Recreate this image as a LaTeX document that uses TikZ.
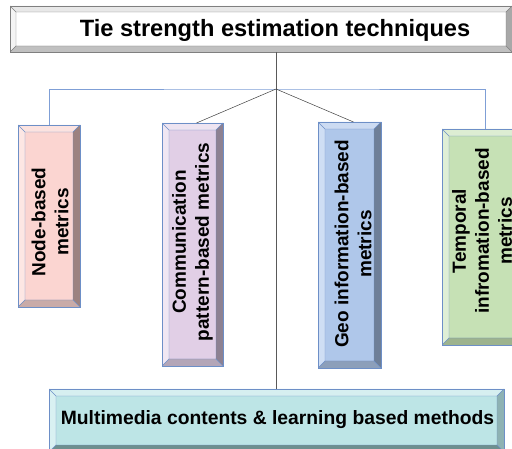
\documentclass[tikz,border=0pt]{standalone}
\usepackage{fontspec}
\setmainfont{Liberation Sans}
\usetikzlibrary{calc}
\definecolor{tfill}{HTML}{FFFFFF}\definecolor{ttop}{HTML}{E8E8E8}\definecolor{tleft}{HTML}{F4F4F4}
\definecolor{tright}{HTML}{A8A8A8}\definecolor{tbot}{HTML}{C0C0C0}\definecolor{tbord}{HTML}{7F7F7F}
\definecolor{nbfill}{HTML}{FBD5D1}\definecolor{nbtop}{HTML}{FCE3E0}\definecolor{nbleft}{HTML}{FDE7E4}
\definecolor{nbright}{HTML}{9C8280}\definecolor{nbbot}{HTML}{C9ABA8}
\definecolor{cmfill}{HTML}{E1CFE6}\definecolor{cmtop}{HTML}{EEE4F1}\definecolor{cmleft}{HTML}{F0E7F3}
\definecolor{cmright}{HTML}{8D8192}\definecolor{cmbot}{HTML}{B4A6B8}
\definecolor{gofill}{HTML}{AFC7EA}\definecolor{gotop}{HTML}{CCDBF2}\definecolor{goleft}{HTML}{CFDEF4}
\definecolor{goright}{HTML}{6E7F98}\definecolor{gobot}{HTML}{8C9FBA}
\definecolor{tmfill}{HTML}{C6E1B5}\definecolor{tmtop}{HTML}{DDEDD3}\definecolor{tmleft}{HTML}{DFEFD6}
\definecolor{tmright}{HTML}{7F9171}\definecolor{tmbot}{HTML}{9DB38E}
\definecolor{mmfill}{HTML}{BDE5E6}\definecolor{mmtop}{HTML}{D6EFF0}\definecolor{mmleft}{HTML}{D9F1F2}
\definecolor{mmright}{HTML}{8EB2B3}\definecolor{mmbot}{HTML}{6E8F8F}
\definecolor{bbord}{HTML}{6D8FC7}
\definecolor{hline}{HTML}{7F9FD6}
\definecolor{trunk}{HTML}{595959}
\tikzset{
 bevbox/.style n args={7}{draw=#6, line width=0.7pt, fill=#1, inner sep=0pt, outer sep=0pt,
  path picture={
   \coordinate (pNW) at (path picture bounding box.north west);
   \coordinate (pNE) at (path picture bounding box.north east);
   \coordinate (pSW) at (path picture bounding box.south west);
   \coordinate (pSE) at (path picture bounding box.south east);
   \coordinate (iNW) at ($(pNW)+(#7,-#7)$);
   \coordinate (iNE) at ($(pNE)+(-#7,-#7)$);
   \coordinate (iSW) at ($(pSW)+(#7,#7)$);
   \coordinate (iSE) at ($(pSE)+(-#7,#7)$);
   \fill[#2] (pNW)--(pNE)--(iNE)--(iNW)--cycle;
   \fill[#3] (pNW)--(pSW)--(iSW)--(iNW)--cycle;
   \fill[#4] (pNE)--(pSE)--(iSE)--(iNE)--cycle;
   \fill[#5] (pSW)--(pSE)--(iSE)--(iSW)--cycle;
   \draw[#6, line width=0.4pt] (iNW) rectangle (iSE) (pNW)--(iNW) (pNE)--(iNE) (pSW)--(iSW) (pSE)--(iSE);
  }},
 vtxt/.style={font=\fontsize{19}{23}\selectfont\bfseries, align=center, rotate=90, inner sep=0pt},
 htxt/.style={font=\fontsize{#1}{#1}\selectfont\bfseries, inner sep=0pt},
 blueline/.style={draw=hline, line width=0.9pt},
 darkline/.style={draw=trunk, line width=0.9pt},
 thinline/.style={draw=black!75, line width=0.5pt}
}
\begin{document}
\begin{tikzpicture}[x=1pt,y=-1pt]
\useasboundingbox (0,0) rectangle (512,449);
\clip (0,0) rectangle (512,449);
\fill[white] (0,0) rectangle (512,449);
% boxes
\node[bevbox={tfill}{ttop}{tleft}{tright}{tbot}{tbord}{6pt}, minimum width=502pt, minimum height=46pt, anchor=north west] (title) at (10,6) {};
\node[bevbox={nbfill}{nbtop}{nbleft}{nbright}{nbbot}{bbord}{7pt}, minimum width=62pt, minimum height=182pt, anchor=north west] (nb) at (18,125) {};
\node[bevbox={cmfill}{cmtop}{cmleft}{cmright}{cmbot}{bbord}{7pt}, minimum width=61pt, minimum height=243pt, anchor=north west] (cm) at (162,123) {};
\node[bevbox={gofill}{gotop}{goleft}{goright}{gobot}{bbord}{7pt}, minimum width=63pt, minimum height=246pt, anchor=north west] (geo) at (318,122) {};
\node[bevbox={tmfill}{tmtop}{tmleft}{tmright}{tmbot}{bbord}{7pt}, minimum width=86pt, minimum height=216pt, anchor=north west] (tm) at (442,129) {};
\node[bevbox={mmfill}{mmtop}{mmleft}{mmright}{mmbot}{bbord}{7pt}, minimum width=455pt, minimum height=63pt, anchor=north west] (mm) at (49,389) {};
% texts
\node[htxt=23.6] (titletxt) at (275,30) {Tie strength estimation techniques};
\node[htxt=19.3] (mmtxt) at (277.5,420) {Multimedia contents \& learning based methods};
\node[vtxt] (nbtxt) at (50,222) {Node-based\\metrics};
\node[vtxt] (cmtxt) at (192.5,242) {Communication\\pattern-based metrics};
\node[vtxt] (gotxt) at (353,244) {Geo information-based\\metrics};
\node[vtxt] (tmtxt) at (482,231) {Temporal\\infromation-based\\metrics};
% connectors
\coordinate (hub) at (276,89);
\draw[blueline] (nb.north) |- (hub) -| (tm.north);
\draw[darkline] (hub |- title.south) -- (hub |- mm.north);
\draw[thinline] (hub) -- ([xshift=4pt]cm.north);
\draw[thinline] (hub) -- ([xshift=4pt]geo.north);
\end{tikzpicture}
\end{document}
